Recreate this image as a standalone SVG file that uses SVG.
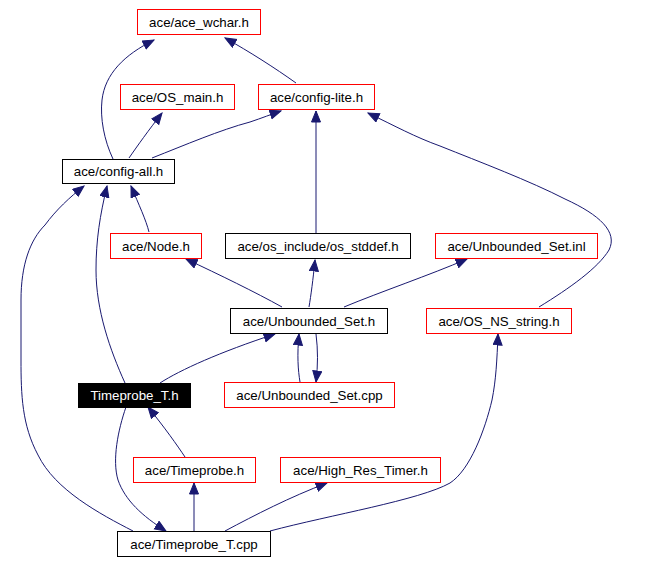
<svg xmlns="http://www.w3.org/2000/svg" width="650" height="564" viewBox="0 0 650 564">
<style>
.n rect{fill:#fff;stroke:#ff0000;stroke-width:1}
.n.b rect{stroke:#000}
.n.s rect{fill:#000;stroke:#000}
.n text{font-family:"Liberation Sans",Arial,sans-serif;font-size:13.3px;text-anchor:middle;fill:#000}
.n.s text{fill:#fff}
.e path{fill:none;stroke:#191970;stroke-width:1;marker-end:url(#ah)}
</style>
<defs>
<marker id="ah" markerUnits="userSpaceOnUse" markerWidth="13" markerHeight="11" refX="11.5" refY="5" orient="auto">
<path d="M0.5,0.5 L11.5,5 L0.5,9.5 z" fill="#191970" stroke="#191970" stroke-width="1"/>
</marker>
</defs>
<rect width="650" height="564" fill="#fff"/>
<g id="edges" class="e">
<path d="M113,159 C104,140 100,118 102,100 C105,74 124,55 154,40"/>
<path d="M296,83 C275,68 250,52 225,38"/>
<path d="M129,158 C138,145 148,131 162,113"/>
<path d="M152,158 C185,145 220,130 250,122 C262,118 272,114 281,111"/>
<path d="M316,233 L316,111"/>
<path d="M539,307 C570,288 598,268 609,250 C618,232 600,215 565,199 C530,181 480,162 440,146 C415,137 395,126 368,113"/>
<path d="M149,232 C146,220 139,205 131,186"/>
<path d="M125,383 C110,350 96,310 96,270 C96,240 100,215 107,186"/>
<path d="M133,531 C100,514 55,490 38,455 C22,425 21,395 21,360 L21,300 C21,265 30,240 45,225 C56,210 70,197 84,186"/>
<path d="M282,307 C255,292 220,275 186,259"/>
<path d="M309,307 C311,295 313,280 315,260"/>
<path d="M344,307 C380,292 430,275 467,259"/>
<path d="M160,383 C180,370 220,352 275,334"/>
<path d="M300,382 C298,370 297,355 299,334"/>
<path d="M316,334 C318,350 318,365 316,382"/>
<path d="M126,407 C118,430 112,460 118,480 C125,500 142,516 166,531"/>
<path d="M185,457 C177,445 165,428 148,407"/>
<path d="M194,532 L194,483"/>
<path d="M225,531 C255,515 290,497 327,483"/>
<path d="M270,531 C330,515 420,500 450,483 C470,470 485,430 492,400 C496,380 497,360 498,334"/>
</g>
<g id="n_ace_wchar" class="n"><rect x="137.5" y="9.5" width="123" height="25"/><text x="199" y="26.5">ace/ace_wchar.h</text></g>
<g id="n_os_main" class="n"><rect x="120.5" y="84.5" width="114" height="25"/><text x="177.5" y="101.5">ace/OS_main.h</text></g>
<g id="n_config_lite" class="n"><rect x="258.5" y="84.5" width="116" height="25"/><text x="316.5" y="101.5">ace/config-lite.h</text></g>
<g id="n_config_all" class="n b"><rect x="62.5" y="159.5" width="112" height="24"/><text x="118.5" y="176">ace/config-all.h</text></g>
<g id="n_node" class="n"><rect x="110.5" y="233.5" width="91" height="25"/><text x="156" y="250.5">ace/Node.h</text></g>
<g id="n_os_stddef" class="n b"><rect x="225.5" y="233.5" width="185" height="25"/><text x="318" y="250.5">ace/os_include/os_stddef.h</text></g>
<g id="n_uset_inl" class="n"><rect x="435.5" y="233.5" width="162" height="25"/><text x="516.5" y="250.5">ace/Unbounded_Set.inl</text></g>
<g id="n_uset_h" class="n b"><rect x="230.5" y="308.5" width="157" height="25"/><text x="309" y="325.5">ace/Unbounded_Set.h</text></g>
<g id="n_os_ns_string" class="n"><rect x="426.5" y="308.5" width="145" height="25"/><text x="499" y="325.5">ace/OS_NS_string.h</text></g>
<g id="n_timeprobe_t_h" class="n s"><rect x="78.5" y="383.5" width="112" height="24"/><text x="134.5" y="400">Timeprobe_T.h</text></g>
<g id="n_uset_cpp" class="n"><rect x="224.5" y="382.5" width="170" height="25"/><text x="309.5" y="399.5">ace/Unbounded_Set.cpp</text></g>
<g id="n_timeprobe_h" class="n"><rect x="133.5" y="457.5" width="122" height="25"/><text x="194.5" y="474.5">ace/Timeprobe.h</text></g>
<g id="n_hrt" class="n"><rect x="280.5" y="457.5" width="160" height="25"/><text x="360.5" y="474.5">ace/High_Res_Timer.h</text></g>
<g id="n_timeprobe_t_cpp" class="n b"><rect x="117.5" y="531.5" width="153" height="25"/><text x="194" y="548.5">ace/Timeprobe_T.cpp</text></g>
</svg>
